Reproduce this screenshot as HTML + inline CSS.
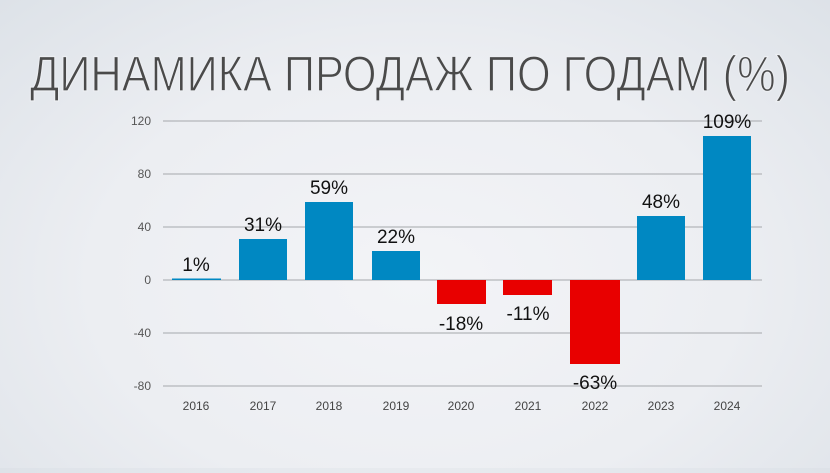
<!DOCTYPE html>
<html><head><meta charset="utf-8"><style>
html,body{margin:0;padding:0;}
body{width:830px;height:468px;overflow:hidden;background:radial-gradient(ellipse at 50% 60%,#f3f4f7 0%,#eceef2 55%,#dde2e8 100%);}
</style></head><body>
<svg width="830" height="468" xmlns="http://www.w3.org/2000/svg" font-family="Liberation Sans, DejaVu Sans, sans-serif">
<text x="30" y="91" font-size="50" fill="#4a4a4a" textLength="760" lengthAdjust="spacingAndGlyphs" stroke="#eceef2" stroke-width="1.2">ДИНАМИКА ПРОДАЖ ПО ГОДАМ (%)</text>
<g stroke="#b4b6ba" stroke-width="1.3">
<line x1="163" x2="762" y1="121" y2="121"/>
<line x1="163" x2="762" y1="174" y2="174"/>
<line x1="163" x2="762" y1="227" y2="227"/>
<line x1="163" x2="762" y1="280" y2="280"/>
<line x1="163" x2="762" y1="333" y2="333"/>
<line x1="163" x2="762" y1="386" y2="386"/>
</g>
<g font-size="12" fill="#555" text-anchor="end">
<text x="151" y="125">120</text><text x="151" y="178">80</text><text x="151" y="231">40</text>
<text x="151" y="284">0</text><text x="151" y="337">-40</text><text x="151" y="390">-80</text>
</g>
<g fill="#0088c2">
<rect x="172" y="278.5" width="49" height="1.5"/>
<rect x="239" y="239" width="48" height="41"/>
<rect x="305" y="202" width="48" height="78"/>
<rect x="372" y="251" width="48" height="29"/>
<rect x="637" y="216" width="48" height="64"/>
<rect x="703" y="136" width="48" height="144"/>
</g>
<g fill="#e80000">
<rect x="437" y="280" width="49" height="24"/>
<rect x="503" y="280" width="49" height="15"/>
<rect x="570" y="280" width="50" height="84"/>
</g>
<g font-size="19" fill="#111" text-anchor="middle">
<text x="196" y="271">1%</text>
<text x="263" y="231">31%</text>
<text x="329" y="194">59%</text>
<text x="396" y="243">22%</text>
<text x="461" y="330">-18%</text>
<text x="528" y="320">-11%</text>
<text x="595" y="389">-63%</text>
<text x="661" y="208">48%</text>
<text x="727" y="128">109%</text>
</g>
<g font-size="12" fill="#444" text-anchor="middle">
<text x="196" y="410">2016</text><text x="263" y="410">2017</text><text x="329" y="410">2018</text>
<text x="396" y="410">2019</text><text x="461" y="410">2020</text><text x="528" y="410">2021</text>
<text x="595" y="410">2022</text><text x="661" y="410">2023</text><text x="727" y="410">2024</text>
</g>
</svg>
</body></html>
